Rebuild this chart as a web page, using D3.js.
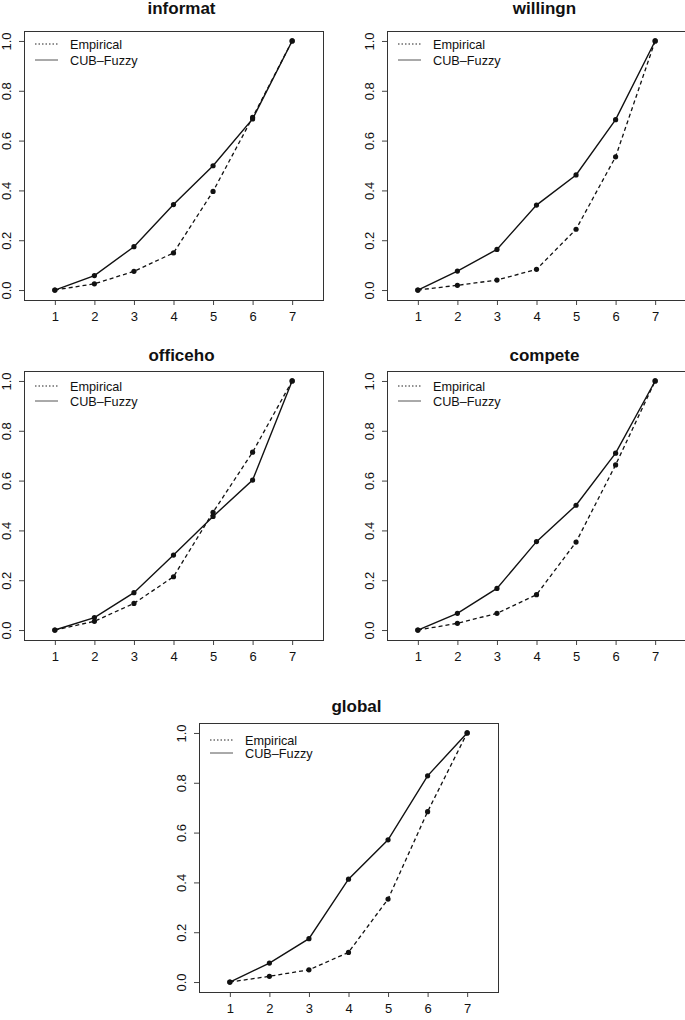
<!DOCTYPE html>
<html>
<head>
<meta charset="utf-8">
<script src="https://cdn.jsdelivr.net/npm/d3@7"></script>
<style>
  html, body { margin: 0; padding: 0; background: #fff; }
  svg { display: block; }
  text { font-family: "Liberation Sans", Arial, Helvetica, sans-serif; fill: #111; }
</style>
</head>
<body>
<script>
// ---- data ----
const categories = [1, 2, 3, 4, 5, 6, 7];
const yTicks = [0, 0.2, 0.4, 0.6, 0.8, 1.0];
const yTickLabels = ["0.0", "0.2", "0.4", "0.6", "0.8", "1.0"];
const panelTitles = ["informat", "willingn", "officeho", "compete", "global"];
const seriesNames = ["Empirical", "CUB–Fuzzy"];

const informatEmp = [0, 0.025, 0.075, 0.149, 0.396, 0.693, 1];
const informatCub = [0, 0.058, 0.174, 0.343, 0.499, 0.687, 1];
const willingnEmp = [0, 0.019, 0.040, 0.083, 0.244, 0.535, 1];
const willingnCub = [0, 0.076, 0.163, 0.341, 0.462, 0.684, 1];
const officehoEmp = [0, 0.035, 0.107, 0.214, 0.473, 0.714, 1];
const officehoCub = [0, 0.050, 0.150, 0.301, 0.456, 0.602, 1];
const competeEmp  = [0, 0.027, 0.067, 0.142, 0.353, 0.663, 1];
const competeCub  = [0, 0.067, 0.167, 0.355, 0.501, 0.710, 1];
const globalEmp   = [0, 0.023, 0.049, 0.119, 0.333, 0.684, 1];
const globalCub   = [0, 0.076, 0.174, 0.413, 0.571, 0.828, 1];

const empiricalSeries = [informatEmp, willingnEmp, officehoEmp, competeEmp, globalEmp];
const cubSeries = [informatCub, willingnCub, officehoCub, competeCub, globalCub];

// ---- layout (positions only) ----
const layout = [
  { x: 24,  y: 31,  titleY: 14,  leg: [13, 29] },
  { x: 387, y: 31,  titleY: 14,  leg: [13, 29] },
  { x: 24,  y: 371, titleY: 361, leg: [15, 30] },
  { x: 387, y: 371, titleY: 361, leg: [15, 30] },
  { x: 199, y: 723, titleY: 712, leg: [17, 30] }
];
const boxW = 299, boxH = 269;

const svg = d3.select("body").append("svg")
  .attr("width", 685).attr("height", 1020);
svg.append("rect").attr("width", 685).attr("height", 1020).attr("fill", "#fff");

panelTitles.forEach((title, i) => {
  const L = layout[i];
  const g = svg.append("g").attr("transform", `translate(${L.x},${L.y})`);
  const x = d3.scaleLinear().domain([0.22, 7.78]).range([0, boxW]);
  const y = d3.scaleLinear().domain([-0.04, 1.04]).range([boxH, 0]);

  // title
  g.append("text")
    .attr("x", boxW / 2 + 8).attr("y", L.titleY - L.y)
    .attr("text-anchor", "middle")
    .style("font-weight", "bold").style("font-size", "17px")
    .text(title);

  // x axis
  const xAxis = g.append("g").attr("transform", `translate(0,${boxH})`)
    .call(d3.axisBottom(x).tickValues(categories).tickSize(5).tickPadding(6).tickFormat(d3.format("d")));
  xAxis.select(".domain").remove();
  xAxis.selectAll("line").attr("stroke", "#444");
  xAxis.selectAll("text").style("font-size", "13px").attr("fill", "#111")
    .attr("dy", null).attr("y", 21).style("dominant-baseline", "auto");

  // y axis
  const yAxis = g.append("g")
    .call(d3.axisLeft(y).tickValues(yTicks).tickSize(5).tickFormat((d, k) => yTickLabels[k]));
  yAxis.select(".domain").remove();
  yAxis.selectAll("line").attr("stroke", "#444");
  yAxis.selectAll("text").style("font-size", "13px").attr("fill", "#111")
    .attr("x", null).attr("dy", null)
    .attr("text-anchor", "middle")
    .attr("transform", "translate(-13,0) rotate(-90)")
    .attr("y", 0);

  // box
  g.append("rect").attr("x", 0.5).attr("y", 0.5).attr("width", boxW).attr("height", boxH)
    .attr("fill", "none").attr("stroke", "#333").attr("stroke-width", 1);

  const line = d3.line().x((d, k) => x(categories[k])).y(d => y(d));

  // empirical
  g.append("path").datum(empiricalSeries[i]).attr("d", line)
    .attr("fill", "none").attr("stroke", "#111").attr("stroke-width", 1.3)
    .attr("stroke-dasharray", "4,3");
  // CUB-Fuzzy
  g.append("path").datum(cubSeries[i]).attr("d", line)
    .attr("fill", "none").attr("stroke", "#111").attr("stroke-width", 1.4);

  [empiricalSeries[i], cubSeries[i]].forEach(s => {
    g.selectAll(null).data(s).enter().append("circle")
      .attr("cx", (d, k) => x(categories[k])).attr("cy", d => y(d))
      .attr("r", 2.6).attr("fill", "#111");
  });

  // legend
  const lg = g.append("g");
  seriesNames.forEach((name, k) => {
    const ly = L.leg[k];
    lg.append("line").attr("x1", 11).attr("x2", 34).attr("y1", ly).attr("y2", ly)
      .attr("stroke", k === 0 ? "#222" : "#555").attr("stroke-width", 1)
      .attr("stroke-dasharray", k === 0 ? "1.5,2" : null);
    lg.append("text").attr("x", 46).attr("y", ly + 4.5)
      .style("font-size", "12.7px").text(name);
  });
});
</script>
</body>
</html>
